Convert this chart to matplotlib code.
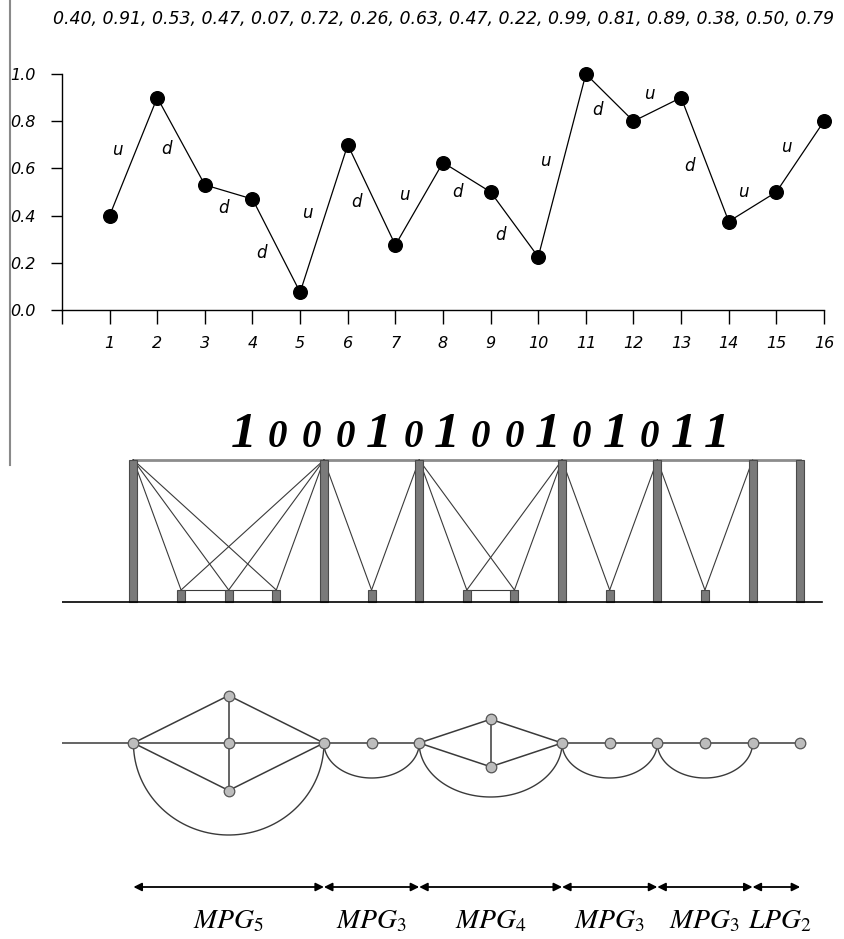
import numpy as np
import matplotlib
matplotlib.use("Agg")
import matplotlib.pyplot as plt
from matplotlib.patches import Rectangle
from matplotlib.lines import Line2D

plt.rcParams['mathtext.fontset'] = 'stix'

# series
time = np.arange(1, 17)
values = [0.40, 0.90, 0.53, 0.47, 0.075, 0.70, 0.275, 0.625,
          0.50, 0.225, 1.00, 0.80, 0.90, 0.375, 0.50, 0.80]
header_values = ["0.40", "0.91", "0.53", "0.47", "0.07", "0.72", "0.26", "0.63",
                 "0.47", "0.22", "0.99", "0.81", "0.89", "0.38", "0.50", "0.79"]
y_ticks = [0.0, 0.2, 0.4, 0.6, 0.8, 1.0]

# up / down coding of each step
bits = [1 if b > a else 0 for a, b in zip(values[:-1], values[1:])]
ones = [i for i, b in enumerate(bits) if b == 1]

W, H = 845, 939
def fx(px):
    return px / W
def fy(py):
    return 1 - py / H

fig = plt.figure(figsize=(W / 100, H / 100), dpi=100)

# ---------------- top: the series ----------------
ax = fig.add_axes([fx(62), fy(310), (824 - 62) / W, (310 - 74) / H])
ax.plot(time, values, color='black', lw=0.9, marker='o', ms=9.8,
        clip_on=False, zorder=3)
ax.set_xlim(0, 16)
ax.set_ylim(0, 1)
ax.set_xticks(range(17))
ax.set_xticklabels([''] + [str(t) for t in time])
ax.set_yticks(y_ticks)
ax.set_yticklabels(['%.1f' % v for v in y_ticks])
ax.tick_params(axis='x', length=10, width=1, pad=9, labelsize=11.5)
ax.tick_params(axis='y', length=8, width=1, pad=11, labelsize=11.5)
for lab in ax.get_xticklabels() + ax.get_yticklabels():
    lab.set_style('italic')
ax.spines['top'].set_visible(False)
ax.spines['right'].set_visible(False)
ax.spines['left'].set_linewidth(1)
ax.spines['bottom'].set_linewidth(1)

# u / d beside each step
for i, b in enumerate(bits):
    p0 = ax.transData.transform((time[i], values[i]))
    p1 = ax.transData.transform((time[i + 1], values[i + 1]))
    d = p1 - p0
    n = np.hypot(d[0], d[1])
    if b:
        nrm = np.array([-d[1], d[0]]) / n
    else:
        nrm = np.array([d[1], -d[0]]) / n
    off = nrm * 17 * 0.72
    mid = ((time[i] + time[i + 1]) / 2, (values[i] + values[i + 1]) / 2)
    ax.annotate('u' if b else 'd', xy=mid, xytext=off, textcoords='offset points',
                ha='center', va='center', style='italic', fontsize=12)

fig.text(fx(444), fy(19), ', '.join(header_values), ha='center', va='center',
         style='italic', fontsize=12.5)
fig.add_artist(Line2D([fx(10), fx(10)], [1, fy(465)], color='#8a8a8a', lw=1.5))

# binary string
xs_bits = np.linspace(244, 717, len(bits))
for px, b in zip(xs_bits, bits):
    fig.text(fx(px), fy(447), str(b), ha='center', va='baseline',
             family='Liberation Serif', weight='bold', style='italic',
             fontsize=37 if b else 28)

# ---------------- bottom: bars, graph, motifs ----------------
ax2 = fig.add_axes([fx(62), 0, (824 - 62) / W, 1 - 380 / H])
ax2.set_xlim(0, 16)
ax2.set_ylim(H, 380)
ax2.axis('off')

bar_x = np.arange(len(bits)) + 1.5
Y_TOP, Y_SHORT, Y_BASE = 460, 590, 602
Y_LINE, Y_ARROW, Y_LABEL = 743, 887, 928
bar_w = 0.17
line_c = '#3a3a3a'
depth = {1: 35, 2: 54, 3: 92}

for x, b in zip(bar_x, bits):
    top = Y_TOP if b else Y_SHORT
    ax2.add_patch(Rectangle((x - bar_w / 2, top), bar_w, Y_BASE - top,
                            fc='#7a7a7a', ec='#4a4a4a', lw=0.8, zorder=3))
ax2.plot([0, 15.96], [Y_BASE, Y_BASE], color='black', lw=1.2, zorder=4)
ax2.plot([bar_x[ones[0]], bar_x[ones[-1]]], [Y_TOP, Y_TOP], color='#8c8c8c', lw=2, zorder=2)

# graph: lead-in line
ax2.plot([0, bar_x[ones[0]]], [Y_LINE, Y_LINE], color=line_c, lw=1.1, zorder=2)

node_pts = [(bar_x[k], Y_LINE) for k in ones]
for a, b in zip(ones[:-1], ones[1:]):
    zeros = list(range(a + 1, b))
    xl, xr = bar_x[a], bar_x[b]
    m = len(zeros)
    # visibility lines
    for z in zeros:
        ax2.plot([xl, bar_x[z]], [Y_TOP, Y_SHORT], color=line_c, lw=0.8, zorder=2)
        ax2.plot([xr, bar_x[z]], [Y_TOP, Y_SHORT], color=line_c, lw=0.8, zorder=2)
    if m > 1:
        ax2.plot([bar_x[zeros[0]], bar_x[zeros[-1]]], [Y_SHORT, Y_SHORT],
                 color=line_c, lw=0.8, zorder=2)
    # graph motif
    if m == 0:
        ax2.plot([xl, xr], [Y_LINE, Y_LINE], color=line_c, lw=1.1, zorder=2)
        name = '$LPG_{2}$'
        lx = (xl + xr) / 2 + 0.08
    else:
        xc = (xl + xr) / 2
        offs = (np.arange(m) - (m - 1) / 2) * 47.5
        pts = [(xc, Y_LINE + o) for o in offs]
        for p in pts:
            ax2.plot([xl, p[0]], [Y_LINE, p[1]], color=line_c, lw=1.1, zorder=2)
            ax2.plot([p[0], xr], [p[1], Y_LINE], color=line_c, lw=1.1, zorder=2)
        if m > 1:
            ax2.plot([xc, xc], [pts[0][1], pts[-1][1]], color=line_c, lw=1.1, zorder=2)
        t = np.linspace(0, np.pi, 80)
        ax2.plot(xc + (xr - xc) * np.cos(t), Y_LINE + depth[m] * np.sin(t),
                 color=line_c, lw=1.0, zorder=2)
        node_pts += pts
        name = '$MPG_{%d}$' % (m + 2)
        lx = xc
    ax2.annotate('', xy=(xr, Y_ARROW), xytext=(xl, Y_ARROW),
                 arrowprops=dict(arrowstyle='<|-|>', color='black', lw=1.3,
                                 mutation_scale=12, shrinkA=0, shrinkB=0))
    ax2.text(lx, Y_LABEL, name, ha='center', va='baseline', fontsize=20)

nx = [p[0] for p in node_pts]
ny = [p[1] for p in node_pts]
ax2.scatter(nx, ny, s=58, fc='#bdbdbd', ec='#555555', lw=0.9, zorder=5)

fig.savefig('out.png', dpi=100)
